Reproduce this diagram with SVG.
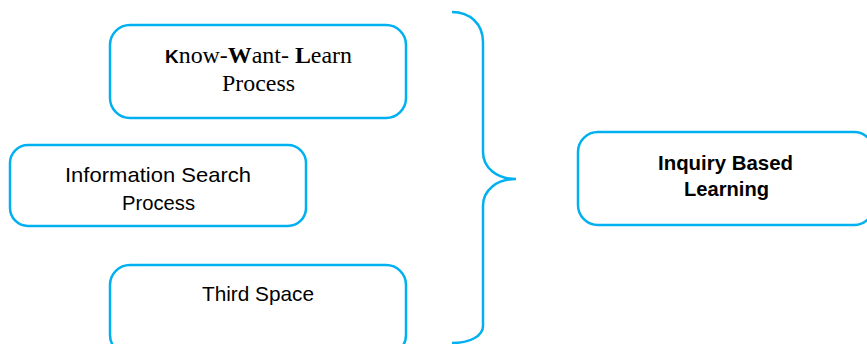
<svg xmlns="http://www.w3.org/2000/svg" width="867" height="344" viewBox="0 0 867 344">
  <style>
    .box { fill: #ffffff; stroke: #00b0f0; stroke-width: 2.5; }
    .serif { font-family: "Liberation Serif", "Times New Roman", serif; font-size: 24px; fill: #000; }
    .sans { font-family: "Liberation Sans", Arial, sans-serif; font-size: 21px; fill: #000; }
    .bold { font-weight: bold; }
  </style>
  <rect width="867" height="344" fill="#ffffff"/>

  <g id="kwl">
    <rect class="box" x="110" y="25" width="296" height="93" rx="20" ry="20"/>
    <text class="serif" x="258.5" y="63" text-anchor="middle" textLength="187" lengthAdjust="spacingAndGlyphs"><tspan class="bold" font-family="Liberation Sans, Arial, sans-serif" font-size="19">K</tspan>now-<tspan class="bold">W</tspan>ant- <tspan class="bold">L</tspan>earn</text>
    <text class="serif" x="258.5" y="91" text-anchor="middle" textLength="73" lengthAdjust="spacingAndGlyphs">Process</text>
  </g>

  <g id="isp">
    <rect class="box" x="10" y="145" width="296" height="81" rx="18" ry="18"/>
    <text class="sans" x="158" y="182" text-anchor="middle" textLength="186" lengthAdjust="spacingAndGlyphs">Information Search</text>
    <text class="sans" x="158.5" y="210" text-anchor="middle" textLength="73" lengthAdjust="spacingAndGlyphs">Process</text>
  </g>

  <g id="third-space">
    <rect class="box" x="110" y="265" width="296" height="90" rx="20" ry="20"/>
    <text class="sans" x="258" y="301" text-anchor="middle" textLength="112" lengthAdjust="spacingAndGlyphs">Third Space</text>
  </g>

  <g id="ibl">
    <rect class="box" x="578" y="132" width="296" height="93" rx="20" ry="20"/>
    <text class="sans bold" x="725.5" y="170" text-anchor="middle" textLength="135" lengthAdjust="spacingAndGlyphs">Inquiry Based</text>
    <text class="sans bold" x="726.5" y="196" text-anchor="middle" textLength="85" lengthAdjust="spacingAndGlyphs">Learning</text>
  </g>

  <g id="connectors">
    <path d="M452,12 C470,12 483,24 483,42 L483,152 C483,168 497,179 516,179 C497,179 483,190 483,206 L483,326 C483,336 470,343 452,343" fill="none" stroke="#00b0f0" stroke-width="2.5"/>
  </g>
</svg>
